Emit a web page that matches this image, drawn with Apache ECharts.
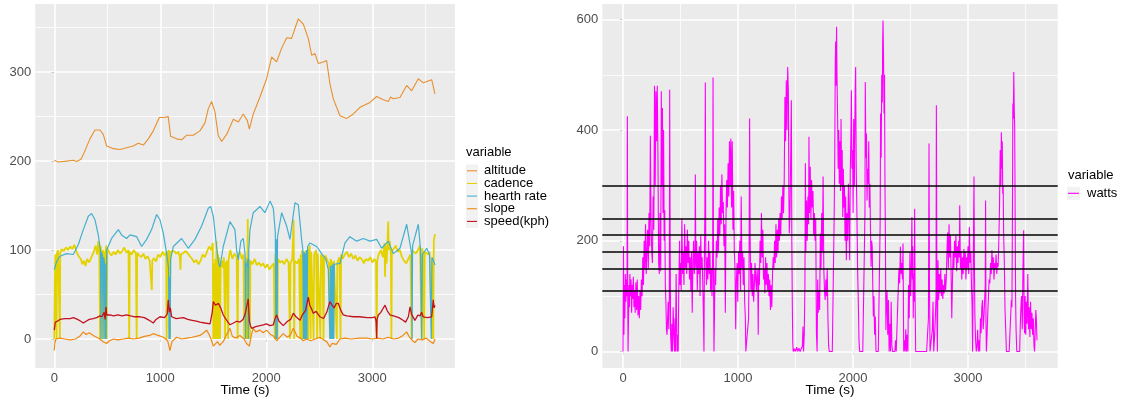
<!DOCTYPE html>
<html><head><meta charset="utf-8">
<script src="https://cdn.jsdelivr.net/npm/echarts@6/dist/echarts.min.js"></script>
<style>html,body{margin:0;padding:0;background:#fff}#c{width:1121px;height:402px}</style>
</head><body><div id="c"></div><script>
// ---- axis ticks / reference values ----
const xTicks=[0,1000,2000,3000];
const xMinor=[500,1500,2500,3500];
const leftYTicks=[0,100,200,300];
const leftYMinor=[50,150,250,350];
const rightYTicks=[0,200,400,600];
const rightYMinor=[100,300,500];
const hLines=[110,150,180,210,240,300];
const leftVariables=['altitude','cadence','hearth rate','slope','speed(kph)'];
const rightVariables=['watts'];
const legendTitle='variable';
const xTitle='Time (s)';

// ---- series data: [time (s), value] ----
const altitude=[[0,201],[38,199],[116,200],[179,201],[211,199.5],[252,202],[289,211.5],[336,225],[384,235],[431,235],[462,230],[494,217],[557,214],[619,213],[682,215],[745,217],[792,220],[840,218],[887,225],[934,234],[991,249],[1028,249],[1075,250],[1097,228],[1154,225],[1201,224],[1248,229],[1311,229],[1374,234],[1421,243],[1453,259],[1484,267],[1516,255],[1547,228.5],[1579,222],[1626,230],[1689,247],[1736,244],[1783,253],[1821,245.5],[1840,236],[1877,253],[1940,272],[2003,292.6],[2050,317],[2097,311.5],[2145,327],[2192,338.6],[2239,338],[2270,349],[2302,360],[2349,354],[2396,338],[2428,319],[2459,321],[2491,309.6],[2538,311.5],[2569,313],[2600,287],[2632,270],[2663,260.5],[2695,251],[2758,248],[2821,253],[2884,260.5],[2978,266],[3041,272.6],[3104,269],[3151,267],[3173,272],[3198,270],[3261,271.5],[3324,285],[3371,279],[3434,292.6],[3481,288],[3560,291.5],[3591,275.6]];

const cadence=[[0,0],[5,60],[10,95],[20,97],[22,0],[25,96],[35,100],[45,98],[53,0],[56,97],[70,101],[90,99],[110,103],[130,100],[150,104],[170,101],[190,106],[210,98],[230,93],[250,90],[265,84],[280,88],[295,82],[310,90],[330,86],[350,92],[370,97],[390,105],[405,95],[415,110],[425,100],[432,0],[436,105],[445,98],[452,0],[458,100],[468,95],[474,0],[480,96],[490,105],[495,0],[500,102],[520,97],[540,94],[560,98],[580,95],[600,100],[620,96],[640,99],[660,103],[680,97],[700,100],[707,0],[712,98],[730,95],[750,100],[770,96],[777,0],[782,97],[800,94],[820,92],[840,96],[860,90],[880,93],[900,88],[915,90],[920,55],[925,88],[940,91],[960,87],[980,95],[1000,92],[1020,98],[1040,94],[1055,97],[1060,0],[1065,96],[1080,100],[1090,0],[1095,98],[1110,97],[1130,99],[1150,96],[1170,98],[1185,92],[1190,78],[1195,95],[1220,97],[1240,99],[1260,96],[1280,93],[1300,90],[1320,86],[1340,89],[1360,84],[1380,88],[1400,95],[1420,92],[1440,98],[1460,104],[1480,100],[1495,108],[1500,0],[1505,85],[1512,0],[1518,90],[1525,0],[1530,110],[1537,0],[1543,95],[1550,0],[1556,92],[1563,0],[1570,85],[1580,88],[1590,80],[1600,92],[1612,0],[1618,85],[1630,88],[1640,0],[1645,90],[1660,100],[1680,90],[1700,96],[1720,92],[1730,0],[1735,94],[1750,98],[1770,90],[1785,95],[1792,0],[1798,88],[1805,0],[1812,92],[1818,0],[1825,135],[1830,0],[1836,90],[1845,0],[1850,88],[1870,84],[1890,90],[1910,83],[1930,86],[1950,82],[1970,85],[1990,80],[2010,84],[2030,78],[2050,82],[2070,85],[2080,0],[2085,95],[2092,0],[2098,88],[2105,0],[2110,90],[2130,86],[2150,88],[2170,84],[2190,90],[2210,86],[2223,0],[2228,85],[2245,90],[2258,134],[2263,0],[2268,88],[2290,85],[2310,90],[2320,0],[2325,95],[2332,0],[2338,100],[2345,0],[2350,92],[2358,0],[2364,98],[2370,0],[2376,100],[2382,0],[2388,96],[2395,0],[2402,100],[2410,105],[2418,0],[2424,98],[2440,100],[2446,0],[2452,95],[2470,100],[2480,0],[2486,96],[2500,98],[2510,0],[2516,95],[2530,92],[2540,0],[2546,90],[2560,94],[2575,88],[2590,85],[2600,0],[2606,90],[2620,85],[2632,0],[2638,88],[2655,90],[2665,0],[2670,86],[2690,92],[2700,0],[2706,95],[2720,90],[2740,95],[2760,98],[2780,92],[2800,96],[2820,90],[2840,94],[2860,88],[2880,92],[2900,90],[2920,85],[2940,90],[2960,88],[2980,92],[3000,86],[3020,90],[3035,87],[3041,0],[3046,88],[3060,95],[3080,100],[3100,92],[3115,108],[3120,70],[3125,105],[3135,85],[3145,115],[3150,132],[3155,100],[3165,110],[3175,95],[3180,0],[3185,98],[3200,100],[3220,105],[3240,98],[3260,100],[3280,92],[3300,88],[3320,85],[3340,90],[3360,95],[3371,0],[3376,100],[3390,98],[3410,96],[3430,100],[3450,105],[3465,0],[3470,102],[3480,95],[3490,0],[3495,98],[3510,100],[3525,95],[3540,98],[3555,100],[3562,0],[3568,90],[3575,0],[3580,110],[3591,118]];

const hearthRate=[[0,78],[22,87],[53,93],[116,96],[179,95],[226,106],[274,123],[321,138],[352,141],[384,134],[415,117],[435,100],[440,0],[445,98],[455,94],[460,0],[465,92],[472,88],[478,0],[482,85],[490,0],[494,100],[541,113],[604,123],[635,117],[682,113],[714,117],[777,115],[824,104],[871,112],[918,123],[965,140],[997,134],[1028,119],[1060,96],[1078,80],[1082,0],[1088,70],[1093,0],[1098,90],[1123,104],[1201,113],[1264,102],[1327,112],[1390,127],[1453,147],[1475,149],[1500,138],[1531,104],[1550,85],[1563,81],[1594,104],[1657,132],[1704,123],[1720,100],[1736,89],[1760,110],[1783,113],[1800,95],[1805,0],[1810,85],[1814,81],[1825,90],[1830,0],[1835,100],[1846,123],[1877,142],[1940,149],[1987,142],[2035,155],[2066,147],[2085,120],[2090,0],[2097,112],[2102,0],[2106,115],[2145,142],[2192,127],[2223,112],[2270,153],[2302,151],[2333,112],[2345,100],[2350,0],[2356,98],[2362,0],[2367,96],[2372,0],[2378,100],[2383,0],[2390,104],[2412,108],[2475,104],[2522,96],[2560,90],[2585,78],[2595,80],[2600,0],[2605,82],[2612,0],[2618,83],[2624,0],[2630,85],[2636,0],[2642,84],[2695,85],[2742,108],[2789,115],[2852,110],[2915,113],[2978,110],[3041,112],[3088,102],[3151,110],[3198,96],[3261,102],[3324,129],[3371,96],[3375,0],[3380,105],[3434,129],[3455,100],[3466,0],[3472,95],[3513,102],[3540,95],[3556,0],[3562,92],[3575,89],[3591,83]];

const slope=[[0,-13],[5,-5],[16,0],[50,1],[100,0],[150,-1],[200,0],[240,3],[274,8],[300,5],[330,7],[368,4],[400,2],[430,0],[460,-3],[494,-5],[520,-2],[560,0],[600,-1],[650,0],[700,1],[745,0],[800,1],[850,3],[900,4],[934,6],[980,4],[1030,2],[1070,-2],[1091,-13],[1110,-3],[1154,2],[1200,0],[1250,1],[1300,2],[1374,4],[1410,7],[1437,10],[1460,5],[1485,-2],[1500,-8],[1516,-9],[1540,-3],[1560,-7],[1594,-3],[1620,4],[1640,8],[1657,12],[1680,3],[1710,1],[1751,4],[1790,0],[1814,-5],[1840,-8],[1860,5],[1877,12],[1900,8],[1940,10],[1970,7],[2003,10],[2040,5],[2070,3],[2097,-2],[2120,1],[2160,6],[2200,2],[2230,5],[2255,12],[2290,3],[2320,1],[2349,-2],[2380,0],[2420,-2],[2460,0],[2506,2],[2540,-1],[2570,-3],[2600,-9],[2620,-5],[2660,-6],[2695,0],[2740,1],[2800,0],[2880,1],[2947,1],[3000,0],[3050,1],[3100,0],[3150,2],[3200,0],[3250,1],[3290,4],[3324,8],[3350,2],[3380,-2],[3402,-4],[3430,0],[3470,-1],[3510,1],[3550,-3],[3575,-5],[3591,0]];

const speed=[[0,10],[10,19],[30,20],[53,22],[100,23],[150,23],[179,24],[220,22],[250,20],[274,18],[300,20],[330,22],[368,23],[400,24],[431,26],[450,25],[470,30],[480,22],[487,36],[495,27],[525,27],[560,26],[600,27],[640,26],[682,27],[720,26],[760,25],[808,25],[850,24],[880,22],[910,20],[934,18],[960,22],[997,25],[1040,24],[1065,28],[1075,44],[1085,30],[1095,35],[1107,25],[1150,23],[1217,24],[1260,22],[1300,21],[1340,20],[1374,19],[1420,18],[1469,17],[1490,30],[1500,42],[1520,38],[1547,40],[1570,35],[1594,27],[1620,22],[1657,16],[1690,18],[1720,20],[1751,19],[1780,22],[1800,28],[1814,29],[1830,45],[1840,20],[1850,15],[1862,12],[1900,14],[1940,15],[1972,16],[2000,17],[2035,15],[2066,16],[2085,24],[2097,27],[2120,20],[2160,15],[2200,20],[2230,22],[2255,29],[2280,25],[2318,21],[2340,27],[2370,32],[2396,47],[2410,38],[2430,33],[2443,29],[2470,31],[2506,25],[2540,23],[2570,30],[2600,42],[2620,38],[2640,35],[2660,40],[2679,40],[2700,33],[2726,27],[2760,26],[2821,25],[2880,25],[2950,24],[3000,24],[3025,25],[3035,20],[3041,1],[3045,22],[3057,27],[3080,30],[3100,34],[3120,38],[3140,32],[3167,27],[3200,26],[3250,24],[3290,21],[3314,19],[3340,25],[3356,36],[3370,28],[3402,21],[3430,27],[3450,26],[3465,30],[3480,25],[3520,24],[3560,25],[3575,44],[3583,35],[3591,38]];

const watts=[[0,0],[4,190],[8,30],[12,120],[16,60],[20,140],[25,90],[30,130],[35,100],[38,425],[41,110],[44,0],[48,0],[52,120],[56,80],[60,140],[65,100],[70,130],[75,70],[80,120],[85,95],[90,135],[95,80],[100,110],[106,70],[112,125],[118,75],[124,130],[130,65],[136,100],[142,60],[148,110],[154,75],[160,130],[166,100],[172,170],[178,120],[184,200],[190,150],[196,230],[202,140],[208,180],[214,220],[220,150],[226,250],[232,190],[238,390],[244,230],[250,180],[256,160],[262,280],[268,220],[274,480],[280,300],[286,470],[292,380],[298,480],[304,350],[310,160],[316,140],[322,250],[328,145],[333,470],[338,300],[343,440],[348,250],[353,400],[358,200],[363,255],[368,120],[373,90],[378,40],[383,30],[388,60],[393,90],[398,40],[403,100],[406,473],[410,200],[414,30],[420,0],[425,50],[430,0],[436,80],[442,30],[448,0],[452,60],[456,0],[462,140],[466,60],[470,0],[475,30],[480,0],[484,95],[488,150],[492,200],[496,120],[500,160],[506,110],[512,240],[518,140],[524,180],[530,120],[536,230],[542,150],[548,190],[554,140],[560,220],[566,160],[572,200],[578,130],[584,170],[590,110],[596,180],[602,70],[608,160],[614,200],[620,140],[626,170],[629,320],[634,150],[640,200],[646,110],[652,180],[658,140],[664,190],[670,100],[676,210],[682,150],[688,170],[694,120],[700,60],[704,0],[708,180],[712,250],[716,486],[720,170],[726,120],[732,170],[738,130],[744,200],[750,140],[756,180],[762,110],[768,150],[774,100],[780,180],[783,495],[787,150],[791,0],[795,60],[800,150],[806,120],[812,200],[818,170],[824,240],[830,180],[836,260],[842,210],[848,300],[854,230],[860,320],[866,250],[872,270],[878,190],[884,230],[890,70],[896,250],[902,310],[908,260],[914,340],[920,280],[926,380],[932,300],[938,385],[944,260],[950,380],[956,220],[962,290],[968,180],[974,150],[980,40],[986,130],[992,160],[998,90],[1004,180],[1010,140],[1016,200],[1022,110],[1028,280],[1034,150],[1040,180],[1046,120],[1052,170],[1058,90],[1064,60],[1068,0],[1074,0],[1080,0],[1086,0],[1092,60],[1096,150],[1101,421],[1106,200],[1112,110],[1118,160],[1124,100],[1130,140],[1136,90],[1142,120],[1148,160],[1154,130],[1160,110],[1166,150],[1172,120],[1176,30],[1180,150],[1186,120],[1192,200],[1198,160],[1204,250],[1210,170],[1216,220],[1222,130],[1228,150],[1234,105],[1240,170],[1246,120],[1252,160],[1258,110],[1264,140],[1270,100],[1276,130],[1282,75],[1288,120],[1294,80],[1300,140],[1306,170],[1312,150],[1318,200],[1324,160],[1330,230],[1336,170],[1342,220],[1348,180],[1354,240],[1360,200],[1366,250],[1372,210],[1378,280],[1384,240],[1390,300],[1396,250],[1402,310],[1408,460],[1414,380],[1420,490],[1426,400],[1432,514],[1438,470],[1442,300],[1446,213],[1452,250],[1458,350],[1464,454],[1468,200],[1472,93],[1476,17],[1480,0],[1490,5],[1500,0],[1510,8],[1520,0],[1530,6],[1540,0],[1550,0],[1560,10],[1565,45],[1570,0],[1576,30],[1582,120],[1586,340],[1590,180],[1596,273],[1602,200],[1608,280],[1614,230],[1617,388],[1622,250],[1628,334],[1634,240],[1640,310],[1646,260],[1652,290],[1658,210],[1664,250],[1670,200],[1676,240],[1682,32],[1688,0],[1693,130],[1698,70],[1704,110],[1710,75],[1716,213],[1722,150],[1728,250],[1734,180],[1740,316],[1746,150],[1752,110],[1758,93],[1764,130],[1770,100],[1776,150],[1782,60],[1788,10],[1794,0],[1800,0],[1810,0],[1820,0],[1830,0],[1836,240],[1841,346],[1846,520],[1849,560],[1853,480],[1857,587],[1861,500],[1866,424],[1871,330],[1876,400],[1881,303],[1886,380],[1891,290],[1896,420],[1901,300],[1906,364],[1911,243],[1916,330],[1921,260],[1926,300],[1931,200],[1936,280],[1942,165],[1948,250],[1954,200],[1960,303],[1966,240],[1971,165],[1976,320],[1981,380],[1986,472],[1991,330],[1996,364],[2001,250],[2006,420],[2012,300],[2018,460],[2023,514],[2028,334],[2034,250],[2040,150],[2046,93],[2052,20],[2058,0],[2066,0],[2075,0],[2085,0],[2095,0],[2101,0],[2104,250],[2107,487],[2112,350],[2117,394],[2122,273],[2127,330],[2132,303],[2137,380],[2142,260],[2147,303],[2152,220],[2157,153],[2162,200],[2167,189],[2172,120],[2177,63],[2182,100],[2188,30],[2194,63],[2200,0],[2212,0],[2220,0],[2228,0],[2232,0],[2236,230],[2240,430],[2245,350],[2250,500],[2255,450],[2258,560],[2261,598],[2265,540],[2270,430],[2274,500],[2278,303],[2282,200],[2286,39],[2290,80],[2296,111],[2302,30],[2308,93],[2314,0],[2320,50],[2326,0],[2332,90],[2338,10],[2344,0],[2354,0],[2364,0],[2370,20],[2376,0],[2384,0],[2392,0],[2396,130],[2400,150],[2406,123],[2412,189],[2418,140],[2424,160],[2430,130],[2435,195],[2441,0],[2447,20],[2453,0],[2459,40],[2465,0],[2471,30],[2477,0],[2483,120],[2489,60],[2495,180],[2501,100],[2507,150],[2512,243],[2516,130],[2520,190],[2524,60],[2528,140],[2532,90],[2536,258],[2540,100],[2545,0],[2560,0],[2580,0],[2600,0],[2620,0],[2640,0],[2652,0],[2656,60],[2661,376],[2665,120],[2670,0],[2680,0],[2690,40],[2696,90],[2702,0],[2710,30],[2716,60],[2722,100],[2725,445],[2730,60],[2734,0],[2739,165],[2745,93],[2751,140],[2757,105],[2763,150],[2769,100],[2775,130],[2781,95],[2787,120],[2793,105],[2799,140],[2805,110],[2811,130],[2817,180],[2823,215],[2829,150],[2835,230],[2841,170],[2847,210],[2853,140],[2859,60],[2865,130],[2871,180],[2877,150],[2883,200],[2889,170],[2895,210],[2901,145],[2907,190],[2913,160],[2919,200],[2925,170],[2928,264],[2934,150],[2940,180],[2946,130],[2952,170],[2958,140],[2964,185],[2970,150],[2976,180],[2982,130],[2988,170],[2994,150],[3000,190],[3006,140],[3012,225],[3018,160],[3024,180],[3030,123],[3036,80],[3040,0],[3046,0],[3052,316],[3056,150],[3060,63],[3066,20],[3072,0],[3078,10],[3084,39],[3090,0],[3096,20],[3102,0],[3108,60],[3114,33],[3120,80],[3126,93],[3132,40],[3138,60],[3144,90],[3150,120],[3153,273],[3156,60],[3160,0],[3166,30],[3172,70],[3178,100],[3184,130],[3190,123],[3196,160],[3202,140],[3208,183],[3214,150],[3220,170],[3226,130],[3232,160],[3238,150],[3244,175],[3250,140],[3256,160],[3262,153],[3268,200],[3274,260],[3280,364],[3286,300],[3290,396],[3294,330],[3298,380],[3302,285],[3306,300],[3310,213],[3316,160],[3322,75],[3328,40],[3334,0],[3342,0],[3350,0],[3358,0],[3366,0],[3372,0],[3377,93],[3382,80],[3386,230],[3390,448],[3394,420],[3398,505],[3402,440],[3406,406],[3410,250],[3414,93],[3418,40],[3424,0],[3432,0],[3440,0],[3449,0],[3455,50],[3460,80],[3466,100],[3472,40],[3478,150],[3484,219],[3488,60],[3492,33],[3497,100],[3502,30],[3508,90],[3514,50],[3520,140],[3526,40],[3532,80],[3538,26],[3544,90],[3550,40],[3556,70],[3562,30],[3568,60],[3574,10],[3579,0],[3585,40],[3590,75],[3594,60],[3600,20]];

const leftColors=['#E8902E','#E4D200','#44AFCF','#EE8A10','#C2121E'];
const rightColors=['#FF00FF'];
const leftWidths=[1.1,1.8,1.2,1.2,1.3];

// ---- chart ----
const FONT='Liberation Sans, Arial, sans-serif';
const chart=echarts.init(document.getElementById('c'),null,{renderer:'canvas'});
const plain=v=>String(v);

function xAxisOpt(gi){
  return {type:'value',gridIndex:gi,min:-180,max:3780,
    axisLine:{show:false},splitLine:{show:false},
    axisTick:{show:true,customValues:xTicks,length:3,lineStyle:{color:'#333',width:1}},
    axisLabel:{customValues:xTicks,formatter:plain,margin:4,fontFamily:FONT,fontSize:13,color:'#4D4D4D'}};
}
function yAxisOpt(gi,mn,mx,ticks){
  return {type:'value',gridIndex:gi,min:mn,max:mx,
    axisLine:{show:false},splitLine:{show:false},
    axisTick:{show:true,customValues:ticks,length:3,lineStyle:{color:'#333',width:1}},
    axisLabel:{customValues:ticks,formatter:plain,margin:4,fontFamily:FONT,fontSize:13,color:'#4D4D4D'}};
}
function gridLines(gi,xMaj,xMin,yMaj,yMin){
  const d=[];
  xMin.forEach(v=>d.push({xAxis:v,lineStyle:{width:0.8}}));
  yMin.forEach(v=>d.push({yAxis:v,lineStyle:{width:0.8}}));
  xMaj.forEach(v=>d.push({xAxis:v,lineStyle:{width:1.6}}));
  yMaj.forEach(v=>d.push({yAxis:v,lineStyle:{width:1.6}}));
  return {type:'line',xAxisIndex:gi,yAxisIndex:gi,z:1,silent:true,
    data:[[0,0]],showSymbol:false,lineStyle:{opacity:0},
    markLine:{z:1,silent:true,symbol:['none','none'],label:{show:false},animation:false,
      lineStyle:{color:'#FFFFFF',type:'solid'},emphasis:{disabled:true},data:d}};
}
function lineSeries(name,data,color,gi,w){
  return {type:'line',name:name,xAxisIndex:gi,yAxisIndex:gi,data:data,z:2,
    showSymbol:false,symbol:'none',sampling:null,animation:false,
    lineStyle:{color:color,width:w},itemStyle:{color:color},emphasis:{disabled:true}};
}

const series=[
  gridLines(0,xTicks,xMinor,leftYTicks,leftYMinor),
  gridLines(1,xTicks,xMinor,rightYTicks,rightYMinor),
  lineSeries(leftVariables[0],altitude,leftColors[0],0,leftWidths[0]),
  lineSeries(leftVariables[1],cadence,leftColors[1],0,leftWidths[1]),
  lineSeries(leftVariables[2],hearthRate,leftColors[2],0,leftWidths[2]),
  lineSeries(leftVariables[3],slope,leftColors[3],0,leftWidths[3]),
  lineSeries(leftVariables[4],speed,leftColors[4],0,leftWidths[4]),
  lineSeries(rightVariables[0],watts,rightColors[0],1,1.1),
  {type:'line',xAxisIndex:1,yAxisIndex:1,z:3,silent:true,data:[[0,0]],showSymbol:false,lineStyle:{opacity:0},
    markLine:{z:10,silent:true,symbol:['none','none'],label:{show:false},animation:false,
      lineStyle:{color:'#000000',type:'solid',width:1.6},emphasis:{disabled:true},
      data:hLines.map(v=>({yAxis:v}))}}
];

// legends and axis titles as graphic text
const graphic=[];
function txt(x,y,s,size,align){
  return {type:'text',x:x,y:y,silent:true,z:100,
    style:{text:s,font:size+'px '+FONT,fill:'#000',
      align:align||'left',verticalAlign:'middle',textAlign:align||'left',textVerticalAlign:'middle'}};
}
graphic.push(txt(245.1,390,xTitle,13.5,'center'));
graphic.push(txt(830,390,xTitle,13.5,'center'));
graphic.push(txt(466,152.7,legendTitle,13));
graphic.push({type:'rect',silent:true,z:100,shape:{x:466,y:164.5,width:12,height:63.3},style:{fill:'#F2F2F2'}});
leftVariables.forEach((v,i)=>{
  const y=170.8+i*12.65;
  graphic.push({type:'line',silent:true,z:101,shape:{x1:467,y1:y,x2:477,y2:y},style:{stroke:leftColors[i],lineWidth:1.1}});
  graphic.push(txt(484,y,v,13));
});
graphic.push(txt(1068,175,legendTitle,13));
graphic.push({type:'rect',silent:true,z:100,shape:{x:1067,y:186.8,width:13,height:13},style:{fill:'#F2F2F2'}});
rightVariables.forEach((v,i)=>{
  const y=193.3;
  graphic.push({type:'line',silent:true,z:101,shape:{x1:1068,y1:y,x2:1079,y2:y},style:{stroke:rightColors[i],lineWidth:1.1}});
  graphic.push(txt(1087,y,v,13));
});

chart.setOption({
  animation:false,
  backgroundColor:'#FFFFFF',
  grid:[
    {left:35.2,top:4,width:419.8,height:364,show:true,backgroundColor:'#EBEBEB',borderWidth:0,containLabel:false,outerBoundsMode:'none'},
    {left:602.3,top:4,width:455.4,height:364,show:true,backgroundColor:'#EBEBEB',borderWidth:0,containLabel:false,outerBoundsMode:'none'}
  ],
  xAxis:[xAxisOpt(0),xAxisOpt(1)],
  yAxis:[yAxisOpt(0,-32.6,376.6,leftYTicks),yAxisOpt(1,-29.9,627.9,rightYTicks)],
  series:series,
  graphic:graphic
});
</script></body></html>
